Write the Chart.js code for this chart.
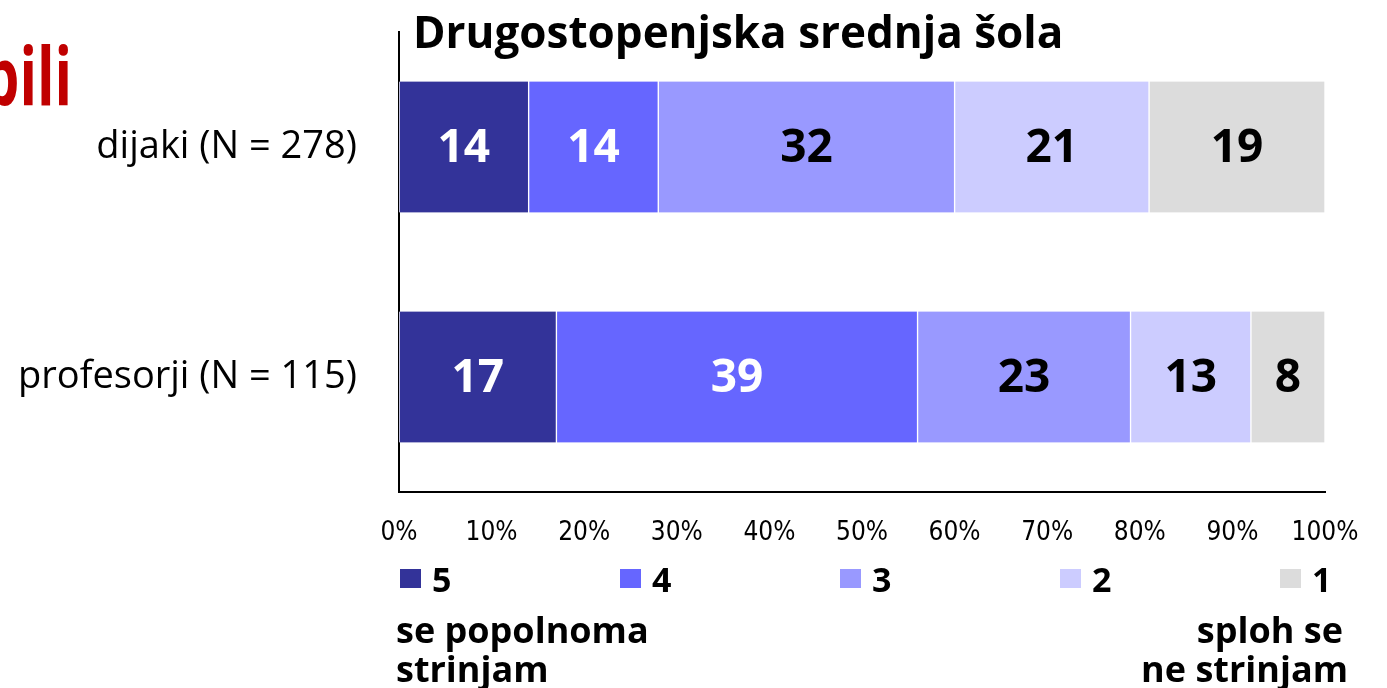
<!DOCTYPE html>
<html>
<head>
<meta charset="utf-8">
<script src="https://cdn.jsdelivr.net/npm/chart.js@4.4.1/dist/chart.umd.min.js"></script>
<style>
    body { margin: 0; background: #fff; overflow: hidden; }
    #wrap { position: relative; width: 1387px; height: 688px; }
    #sideTitle {
        position: absolute; left: -17px; top: 34px;
        font-family: 'Open Sans', sans-serif; font-weight: 700; font-size: 80px;
        color: #c00000; transform: scaleX(0.72); transform-origin: left top; line-height: 1;
    }
</style>
</head>
<body>
<div id="wrap">
    <div id="sideTitle">bili</div>
    <canvas id="likertChart" width="1387" height="688"></canvas>
</div>
<script>
const chartTitle = 'Drugostopenjska srednja šola';
const groups = ['dijaki (N = 278)', 'profesorji (N = 115)'];
const levels = ['5', '4', '3', '2', '1'];
const levelColors = ['#333399', '#6666ff', '#9999ff', '#ccccff', '#dcdcdc'];
const levelTextColors = ['#ffffff', '#ffffff', '#000000', '#000000', '#000000'];

// shares in % per level, in order of groups
const level5 = [14, 17];
const level4 = [14, 39];
const level3 = [32, 23];
const level2 = [21, 13];
const level1 = [19, 8];

const xTicks = [0, 10, 20, 30, 40, 50, 60, 70, 80, 90, 100];
const leftCaption = ['se popolnoma', 'strinjam'];
const rightCaption = ['sploh se', 'ne strinjam'];

const FONT = "'Open Sans', sans-serif";
const NARROW = "'Liberation Sans Narrow', 'DejaVu Sans Condensed', sans-serif";

const seriesValues = [level5, level4, level3, level2, level1];

const datasets = levels.map((lv, i) => ({
    label: lv,
    data: seriesValues[i],
    backgroundColor: levelColors[i],
    borderColor: '#ffffff',
    borderWidth: { left: 1, right: 1, top: 0, bottom: 0 },
    borderSkipped: false,
    barThickness: 131
}));

const decorPlugin = {
    id: 'decor',
    afterDatasetsDraw(chart) {
        const ctx = chart.ctx;
        ctx.save();
        ctx.textAlign = 'center';
        ctx.textBaseline = 'middle';
        ctx.font = `700 46px ${FONT}`;
        chart.data.datasets.forEach((ds, i) => {
            chart.getDatasetMeta(i).data.forEach((bar, j) => {
                const p = bar.getProps(['x', 'base', 'y'], true);
                ctx.fillStyle = levelTextColors[i];
                ctx.fillText(String(ds.data[j]), (p.x + p.base) / 2, p.y + 2);
            });
        });
        ctx.restore();
    },
    afterDraw(chart) {
        const ctx = chart.ctx;
        const area = chart.chartArea;
        ctx.save();

        // title
        ctx.fillStyle = '#000';
        ctx.textAlign = 'left';
        ctx.textBaseline = 'alphabetic';
        ctx.font = `700 44px ${FONT}`;
        ctx.fillText(chartTitle, area.left + 14, 48);

        // legend
        const step = 220;
        ctx.font = `700 34px ${FONT}`;
        levels.forEach((lv, i) => {
            const x = area.left + 1 + i * step;
            ctx.fillStyle = levelColors[i];
            ctx.fillRect(x, 569, 21, 19);
            ctx.fillStyle = '#000';
            ctx.fillText(lv, x + 32, 592);
        });

        // end captions
        ctx.font = `700 36px ${FONT}`;
        ctx.textAlign = 'left';
        ctx.fillText(leftCaption[0], area.left - 3, 643);
        ctx.fillText(leftCaption[1], area.left - 3, 682);
        ctx.textAlign = 'right';
        ctx.fillText(rightCaption[0], area.right + 18, 643);
        ctx.fillText(rightCaption[1], area.right + 23, 682);
        ctx.restore();
    }
};

new Chart(document.getElementById('likertChart'), {
    type: 'bar',
    data: { labels: groups, datasets: datasets },
    options: {
        indexAxis: 'y',
        responsive: false,
        animation: false,
        layout: { padding: { top: 32, right: 62, bottom: 0, left: 0 } },
        plugins: {
            legend: { display: false },
            tooltip: { enabled: false }
        },
        scales: {
            x: {
                stacked: true,
                min: 0,
                max: 100,
                afterBuildTicks: (scale) => { scale.ticks = xTicks.map(v => ({ value: v })); },
                afterFit: (scale) => { scale.height = 196; },
                grid: { display: false, drawTicks: false },
                border: { display: true, color: '#000', width: 2 },
                ticks: {
                    padding: 26,
                    color: '#000',
                    font: { family: NARROW, size: 26 },
                    callback: (v) => v + '%'
                }
            },
            y: {
                stacked: true,
                afterFit: (scale) => {
                    scale.width = 399;
                    scale.paddingTop = 0;
                    scale.paddingBottom = 0;
                },
                grid: { display: false, drawTicks: false },
                border: { display: true, color: '#000', width: 2 },
                ticks: {
                    padding: 42,
                    color: '#000',
                    font: { family: FONT, size: 38 }
                }
            }
        }
    },
    plugins: [decorPlugin]
});
</script>
</body>
</html>
